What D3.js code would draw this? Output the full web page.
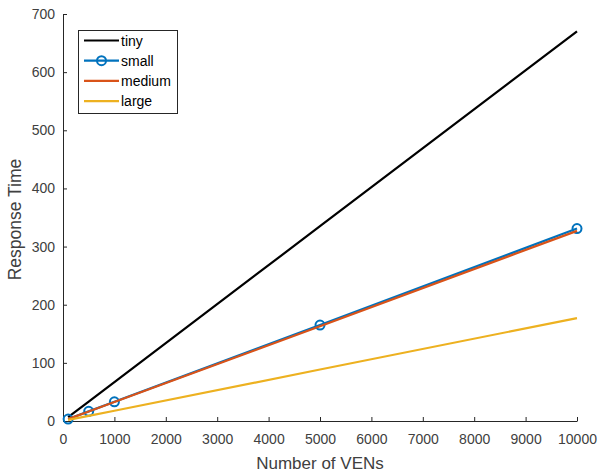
<!DOCTYPE html>
<html>
<head>
<meta charset="utf-8">
<script src="https://cdn.jsdelivr.net/npm/d3@7"></script>
<style>
  body { margin: 0; background: #fff; }
  text { font-family: Arial, "Liberation Sans", sans-serif; }
</style>
</head>
<body>
<script>
// Data
const vens = [100, 500, 1000, 5000, 10000];
const tiny = [6.7, 33.5, 67, 335, 670];
const small = [3.3, 16.6, 33, 165, 331];
const medium = [3.2, 16.3, 32.6, 163, 327];
const large = [1.8, 8.9, 17.7, 88.5, 177];
const xTicks = [0, 1000, 2000, 3000, 4000, 5000, 6000, 7000, 8000, 9000, 10000];
const yTicks = [0, 100, 200, 300, 400, 500, 600, 700];

const series = [
  { name: "tiny", values: tiny, color: "#000000", marker: false },
  { name: "small", values: small, color: "#0072BD", marker: true },
  { name: "medium", values: medium, color: "#D95319", marker: false },
  { name: "large", values: large, color: "#EDB120", marker: false }
];

const margin = { top: 14, right: 22, bottom: 51, left: 63 };
const width = 599 - margin.left - margin.right;
const height = 472 - margin.top - margin.bottom;

const svg = d3.select("body")
  .append("svg")
  .attr("width", 599)
  .attr("height", 472)
  .append("g")
  .attr("transform", `translate(${margin.left},${margin.top})`);

const x = d3.scaleLinear().domain([0, 10000]).range([0, width]);
const y = d3.scaleLinear().domain([0, 700]).range([height, 0]);

// Axes with inward ticks, MATLAB style
const xAxis = svg.append("g")
  .attr("transform", `translate(0,${height})`)
  .call(d3.axisBottom(x).tickValues(xTicks).tickSizeInner(-4).tickSizeOuter(0).tickPadding(13).tickFormat(d3.format("d")));
const yAxis = svg.append("g")
  .call(d3.axisLeft(y).tickValues(yTicks).tickSizeInner(-4).tickSizeOuter(0).tickPadding(8));

[xAxis, yAxis].forEach(a => {
  a.select(".domain").attr("stroke", "#262626");
  a.selectAll(".tick line").attr("stroke", "#262626");
  a.selectAll("text").attr("fill", "#404040").style("font-size", "14px");
});

// Axis labels
svg.append("text")
  .attr("x", width / 2)
  .attr("y", height + 48)
  .attr("text-anchor", "middle")
  .attr("fill", "#404040")
  .style("font-size", "17px")
  .text("Number of VENs");

svg.append("text")
  .attr("transform", `translate(${-42.5},${height / 2 + 2}) rotate(-90)`)
  .attr("text-anchor", "middle")
  .attr("fill", "#404040")
  .style("font-size", "17.5px")
  .text("Response Time");

// Lines
const line = d3.line()
  .x((d, i) => x(vens[i]))
  .y(d => y(d));

series.forEach(s => {
  svg.append("path")
    .datum(s.values)
    .attr("fill", "none")
    .attr("stroke", s.color)
    .attr("stroke-width", 2.2)
    .attr("d", line);
  if (s.marker) {
    svg.selectAll(".m-" + s.name)
      .data(s.values)
      .enter().append("circle")
      .attr("cx", (d, i) => x(vens[i]))
      .attr("cy", d => y(d))
      .attr("r", 4.5)
      .attr("fill", "none")
      .attr("stroke", s.color)
      .attr("stroke-width", 2);
  }
});

// Legend
const legend = svg.append("g").attr("transform", `translate(${78 - margin.left},${30 - margin.top})`);
legend.append("rect")
  .attr("x", 0.5).attr("y", 0.5)
  .attr("width", 99).attr("height", 83)
  .attr("fill", "#fff")
  .attr("stroke", "#262626")
  .attr("stroke-width", 1);

series.forEach((s, i) => {
  const ly = 10.5 + i * 20.2;
  legend.append("line")
    .attr("x1", 6).attr("x2", 41)
    .attr("y1", ly).attr("y2", ly)
    .attr("stroke", s.color)
    .attr("stroke-width", 2.2);
  if (s.marker) {
    legend.append("circle")
      .attr("cx", 23.5).attr("cy", ly).attr("r", 4.5)
      .attr("fill", "none").attr("stroke", s.color).attr("stroke-width", 2);
  }
  legend.append("text")
    .attr("x", 43).attr("y", ly + 5)
    .attr("fill", "#000")
    .style("font-size", "14px")
    .text(s.name);
});
</script>
</body>
</html>
